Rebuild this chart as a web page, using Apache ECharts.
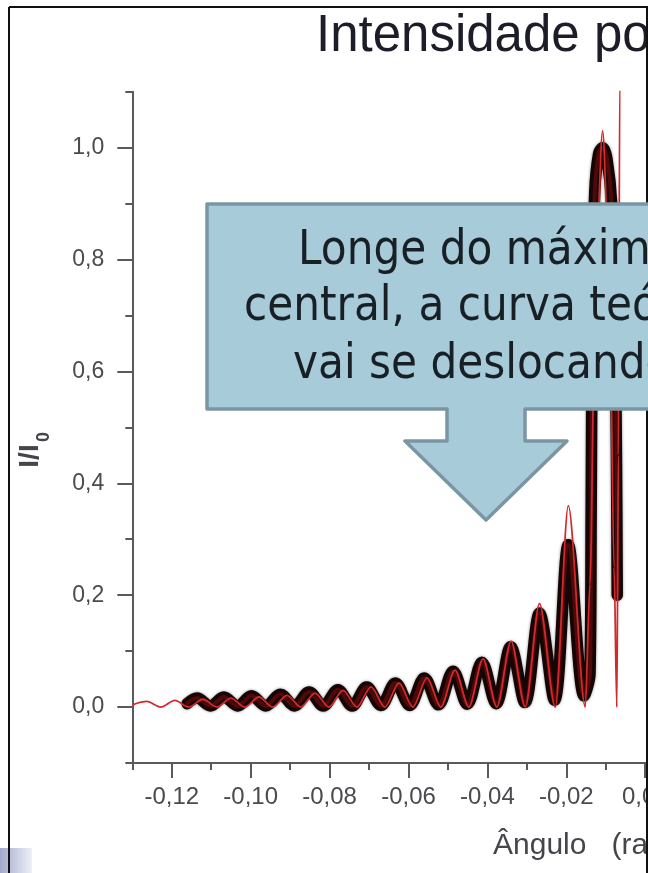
<!DOCTYPE html>
<html>
<head>
<meta charset="utf-8">
<script src="https://cdn.jsdelivr.net/npm/echarts@6/dist/echarts.min.js"></script>
<style>
html,body{margin:0;padding:0;background:#fff;}
#c{width:648px;height:873px;}
</style>
</head>
<body>
<div id="c"></div>
<script>
// ---- tick values ----
const xMajor = [-0.12,-0.10,-0.08,-0.06,-0.04,-0.02,0];
const xMinor = [-0.13,-0.11,-0.09,-0.07,-0.05,-0.03,-0.01];
const yMajor = [0,0.2,0.4,0.6,0.8,1.0];
const yMinor = [-0.1,0.1,0.3,0.5,0.7,0.9,1.1];

// ---- experimental data (black points) ----
const dataX = [-0.1161,-0.1136,-0.1102,-0.1068,-0.1033,-0.0998,-0.0962,-0.0925,-0.0889,-0.0852,
               -0.0816,-0.0779,-0.0743,-0.0706,-0.0670,-0.0633,-0.0597,-0.0560,-0.0524,-0.0487,
               -0.0451,-0.0414,-0.0378,-0.0341,-0.0305,-0.0268,-0.0230,-0.0195,-0.0155,-0.0140,
               -0.0137,-0.0134,-0.0128,-0.0118,-0.0108,-0.0097,-0.0085,-0.0077,-0.0073,-0.0071];
const dataY = [0.006,0.016,0.002,0.018,0.002,0.020,0.002,0.023,0.002,0.027,
               0.002,0.031,0.002,0.036,0.003,0.043,0.003,0.052,0.004,0.064,
               0.005,0.080,0.006,0.108,0.008,0.168,0.012,0.290,0.020,0.060,
               0.350,0.700,0.920,0.990,1.000,0.980,0.900,0.700,0.450,0.200];

// ---- theoretical curve (red line) ----
const theoryX = [-0.1300,-0.1263,-0.1228,-0.1192,-0.1157,-0.1121,-0.1086,-0.1050,-0.1015,-0.0979,
                 -0.0944,-0.0908,-0.0873,-0.0837,-0.0802,-0.0766,-0.0731,-0.0695,-0.0660,-0.0624,
                 -0.0589,-0.0553,-0.0518,-0.0482,-0.0447,-0.0411,-0.0376,-0.0340,-0.0304,-0.0268,
                 -0.0228,-0.0195,-0.0152,-0.0140,-0.0126,-0.0108,-0.0091,-0.0079,-0.0072,-0.0068,
                 -0.00645,-0.0061,-0.0055,0.0000];
const theoryY = [0.004,0.010,0.000,0.012,0.000,0.014,0.000,0.016,0.000,0.018,
                 0.000,0.021,0.000,0.025,0.000,0.030,0.000,0.036,0.000,0.043,
                 0.000,0.052,0.000,0.066,0.000,0.086,0.000,0.118,0.000,0.185,
                 0.000,0.360,0.000,0.220,0.780,1.030,0.780,0.250,0.000,0.450,
                 1.120,1.600,1.900,1.900];

const dataPts = dataX.map((x,i)=>[x,dataY[i]]);
const theoryPts = theoryX.map((x,i)=>[x,theoryY[i]]);

const axisColor = '#5a5a5a';
const labelColor = '#4a4a4f';

const chart = echarts.init(document.getElementById('c'), null, {renderer:'canvas'});

const xCommon = {type:'value', min:-0.13, max:0.0007, gridIndex:0, position:'bottom', splitLine:{show:false}};
const yCommon = {type:'value', min:-0.1, max:1.1, gridIndex:0, position:'left', splitLine:{show:false}};

chart.setOption({
  animation:false,
  backgroundColor:'#ffffff',
  grid:{left:132.3, top:91.7, right:0, height:671.3, containLabel:false, outerBoundsMode:'none'},
  xAxis:[
    Object.assign({}, xCommon, {
      axisLine:{show:true, onZero:false, lineStyle:{color:axisColor, width:2}},
      axisTick:{show:true, length:15, customValues:xMajor, lineStyle:{color:axisColor, width:2}},
      axisLabel:{show:true, customValues:xMajor, margin:22, fontSize:24, showMaxLabel:true,
        fontFamily:'"Liberation Sans", Arial, sans-serif', color:labelColor,
        formatter:v => v.toFixed(2).replace('.', ',')}
    }),
    Object.assign({}, xCommon, {
      axisLine:{show:false, onZero:false},
      axisTick:{show:true, length:7, customValues:xMinor, lineStyle:{color:axisColor, width:2}},
      axisLabel:{show:false}
    })
  ],
  yAxis:[
    Object.assign({}, yCommon, {
      axisLine:{show:true, onZero:false, lineStyle:{color:axisColor, width:2}},
      axisTick:{show:true, length:15, customValues:yMajor, lineStyle:{color:axisColor, width:2}},
      axisLabel:{show:true, customValues:yMajor, margin:28, fontSize:23,
        fontFamily:'"Liberation Sans", Arial, sans-serif', color:labelColor,
        formatter:v => v.toFixed(1).replace('.', ',')}
    }),
    Object.assign({}, yCommon, {
      axisLine:{show:false, onZero:false},
      axisTick:{show:true, length:7, customValues:yMinor, lineStyle:{color:axisColor, width:2}},
      axisLabel:{show:false}
    })
  ],
  series:[
    {type:'line', name:'Dados', xAxisIndex:0, yAxisIndex:0, data:dataPts, showSymbol:false,
     smooth:0.35, silent:true, z:2,
     lineStyle:{color:'#160505', width:11.5, cap:'round', join:'round',
       shadowColor:'rgba(0,0,0,0.45)', shadowBlur:3}},
    {type:'line', name:'Dados (núcleo)', xAxisIndex:0, yAxisIndex:0, data:dataPts, showSymbol:false,
     smooth:0.35, silent:true, z:3,
     lineStyle:{color:'#4e0909', width:4, cap:'round', join:'round'}},
    {type:'line', name:'Teoria', xAxisIndex:0, yAxisIndex:0, data:theoryPts, showSymbol:false,
     smooth:0.3, smoothMonotone:'x', silent:true, z:4,
     lineStyle:{color:'#d22a2c', width:1.8}}
  ],
  graphic:[
    {type:'rect', z:1, silent:true, shape:{x:0, y:848, width:32, height:25},
     style:{fill:new echarts.graphic.LinearGradient(0,0,1,0,[{offset:0,color:'#a3a9cc'},{offset:1,color:'#eef0f7'}])}},
    {type:'text', z:10, x:316, y:37, silent:true,
     style:{text:'Intensidade po', font:'51px "Liberation Sans", Arial, sans-serif', fill:'#1d1d2a',
       textAlign:'left', align:'left', textVerticalAlign:'middle', verticalAlign:'middle'}},
    {type:'text', z:10, x:493, y:846, silent:true,
     style:{text:'Ângulo   (ra', font:'30px "Liberation Sans", Arial, sans-serif', fill:'#45454b',
       textAlign:'left', align:'left', textVerticalAlign:'middle', verticalAlign:'middle'}},
    {type:'text', z:10, x:30, y:456, rotation:Math.PI/2, silent:true,
     style:{text:'I/I', font:'bold 28px "Liberation Sans", Arial, sans-serif', fill:'#45454b',
       textAlign:'center', align:'center', textVerticalAlign:'middle', verticalAlign:'middle'}},
    {type:'text', z:10, x:44, y:437, rotation:Math.PI/2, silent:true,
     style:{text:'0', font:'bold 18px "Liberation Sans", Arial, sans-serif', fill:'#45454b',
       textAlign:'center', align:'center', textVerticalAlign:'middle', verticalAlign:'middle'}},
    {type:'polygon', z:20, silent:true,
     shape:{points:[[207,204],[800,204],[800,409],[525,409],[525,441],[567,441],[486,520],
                    [405,441],[447,441],[447,409],[207,409]]},
     style:{fill:'#a8cbd9', stroke:'#7b96a3', lineWidth:3.5, lineJoin:'round'}},
    {type:'text', z:21, x:298, y:252, scaleX:0.88, silent:true,
     style:{text:'Longe do máxim', font:'48px "DejaVu Sans", sans-serif', fill:'#182026',
       textAlign:'left', align:'left', textVerticalAlign:'middle', verticalAlign:'middle'}},
    {type:'text', z:21, x:244, y:308, scaleX:0.88, silent:true,
     style:{text:'central, a curva teó', font:'48px "DejaVu Sans", sans-serif', fill:'#182026',
       textAlign:'left', align:'left', textVerticalAlign:'middle', verticalAlign:'middle'}},
    {type:'text', z:21, x:293, y:366, scaleX:0.88, silent:true,
     style:{text:'vai se deslocando', font:'48px "DejaVu Sans", sans-serif', fill:'#182026',
       textAlign:'left', align:'left', textVerticalAlign:'middle', verticalAlign:'middle'}},
    {type:'line', z:30, silent:true, shape:{x1:9, y1:7, x2:648, y2:7}, style:{stroke:'#111', lineWidth:2}},
    {type:'line', z:30, silent:true, shape:{x1:9, y1:7, x2:9, y2:873}, style:{stroke:'#111', lineWidth:2}},
    {type:'line', z:15, silent:true, shape:{x1:647, y1:7, x2:647, y2:873}, style:{stroke:'#111', lineWidth:2}}
  ]
});
</script>
</body>
</html>
